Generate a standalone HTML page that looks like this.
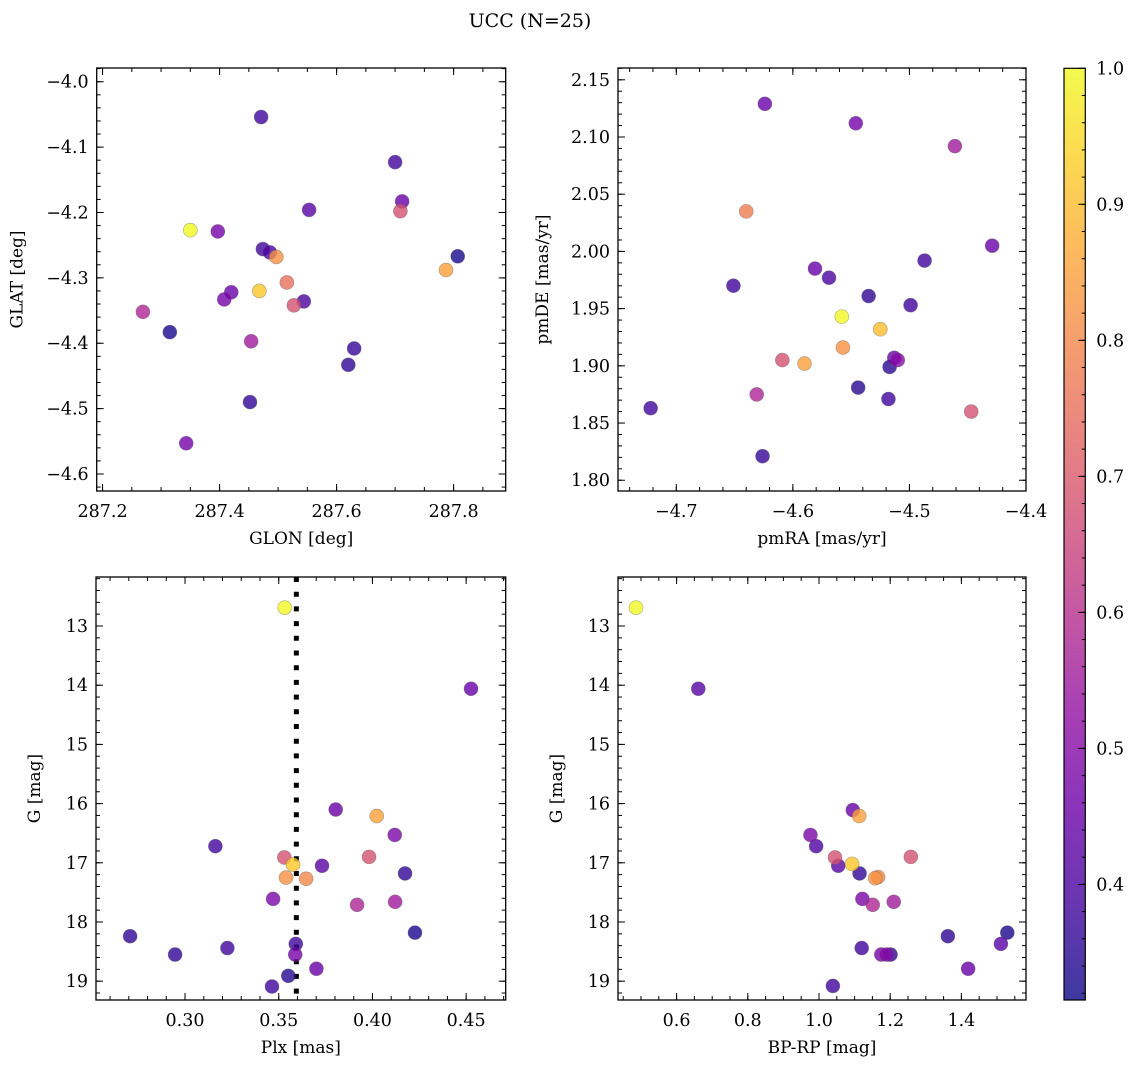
<!DOCTYPE html>
<html><head><meta charset="utf-8">
<style>
html,body{margin:0;padding:0;background:#fff;}
svg{display:block;font-family:"DejaVu Serif","Liberation Serif",serif;}
</style></head>
<body>
<svg id="chart" width="1136" height="1068" viewBox="0 0 1136 1068" xmlns="http://www.w3.org/2000/svg">
<defs>
<linearGradient id="cbgrad" x1="0" y1="1" x2="0" y2="0">
<stop offset="0" stop-color="#0d0887"/><stop offset="0.1" stop-color="#41049d"/><stop offset="0.2" stop-color="#6a00a8"/><stop offset="0.3" stop-color="#8f0da4"/><stop offset="0.4" stop-color="#b12a90"/><stop offset="0.5" stop-color="#cc4778"/><stop offset="0.6" stop-color="#e16462"/><stop offset="0.7" stop-color="#f2844b"/><stop offset="0.8" stop-color="#fca636"/><stop offset="0.9" stop-color="#fcce25"/><stop offset="1" stop-color="#f0f921"/>
</linearGradient>
</defs>
<text x="530" y="27" font-size="19" text-anchor="middle">UCC (N=25)</text>
</svg>
<script>
// ---- data ----
const glon = [287.471,287.700,287.712,287.709,287.553,287.350,287.397,287.474,287.486,287.497,287.807,287.787,287.515,287.468,287.420,287.408,287.544,287.527,287.269,287.315,287.454,287.630,287.620,287.452,287.343];
const glat = [-4.054,-4.123,-4.183,-4.198,-4.196,-4.227,-4.229,-4.256,-4.261,-4.268,-4.267,-4.288,-4.307,-4.320,-4.322,-4.333,-4.336,-4.342,-4.352,-4.383,-4.397,-4.408,-4.433,-4.490,-4.553];
const probTL = [0.38,0.38,0.45,0.68,0.42,1.0,0.47,0.38,0.40,0.82,0.33,0.85,0.75,0.92,0.45,0.47,0.40,0.68,0.58,0.33,0.55,0.37,0.36,0.36,0.47];
const pmra = [-4.624,-4.546,-4.461,-4.640,-4.429,-4.487,-4.581,-4.569,-4.651,-4.535,-4.499,-4.558,-4.525,-4.557,-4.513,-4.510,-4.609,-4.590,-4.517,-4.544,-4.518,-4.631,-4.722,-4.447,-4.626];
const pmde = [2.129,2.112,2.092,2.035,2.005,1.992,1.985,1.977,1.970,1.961,1.953,1.943,1.932,1.916,1.907,1.905,1.905,1.902,1.899,1.881,1.871,1.875,1.863,1.860,1.821];
const probTR = [0.45,0.47,0.55,0.78,0.45,0.38,0.45,0.40,0.38,0.36,0.38,1.0,0.9,0.82,0.45,0.50,0.68,0.85,0.35,0.35,0.38,0.58,0.38,0.68,0.37];
const plx = [0.3532,0.4526,0.3804,0.4023,0.4119,0.3162,0.3530,0.3982,0.3576,0.3731,0.4174,0.3539,0.3646,0.3470,0.4121,0.3918,0.4227,0.2707,0.3591,0.3226,0.3588,0.2947,0.3701,0.3551,0.3464];
const gmagBL = [12.69,14.06,16.10,16.21,16.53,16.72,16.91,16.90,17.03,17.05,17.18,17.25,17.27,17.61,17.66,17.71,18.18,18.24,18.37,18.44,18.55,18.55,18.79,18.91,19.09];
const probBL = [1.0,0.45,0.45,0.85,0.48,0.38,0.68,0.68,0.92,0.42,0.36,0.82,0.80,0.48,0.55,0.58,0.33,0.36,0.38,0.38,0.47,0.36,0.45,0.35,0.38];
const bprp = [0.486,0.661,1.095,1.113,0.976,0.992,1.045,1.258,1.093,1.054,1.114,1.158,1.166,1.122,1.210,1.151,1.529,1.362,1.511,1.120,1.175,1.190,1.201,1.419,1.039];
const gmagBR = [12.69,14.06,16.11,16.21,16.53,16.72,16.91,16.90,17.02,17.05,17.18,17.26,17.24,17.61,17.66,17.71,18.18,18.24,18.37,18.44,18.55,18.55,18.55,18.79,19.08];
const probBR = [1.0,0.42,0.45,0.85,0.48,0.40,0.68,0.68,0.92,0.42,0.36,0.82,0.80,0.48,0.55,0.58,0.33,0.36,0.42,0.38,0.47,0.50,0.36,0.45,0.38];
const plxLine = 0.3594;
const cbTicks = [0.4,0.5,0.6,0.7,0.8,0.9,1.0];
const vmin = 0.315, vmax = 1.0;

const NS = "http://www.w3.org/2000/svg";
const svg = document.getElementById('chart');
const stops = ["#0d0887","#41049d","#6a00a8","#8f0da4","#b12a90","#cc4778","#e16462","#f2844b","#fca636","#fcce25","#f0f921"];
function hex(h){return [parseInt(h.slice(1,3),16),parseInt(h.slice(3,5),16),parseInt(h.slice(5,7),16)];}
function plasma(v){
  let t=(v-vmin)/(vmax-vmin); t=Math.max(0,Math.min(1,t));
  const s=t*10, i=Math.min(9,Math.floor(s)), f=s-i;
  const a=hex(stops[i]), b=hex(stops[i+1]);
  return 'rgb('+a.map((c,k)=>Math.round(c+(b[k]-c)*f)).join(',')+')';
}
function mk(tag, attrs, parent){
  const e=document.createElementNS(NS,tag);
  for(const k in attrs) e.setAttribute(k,attrs[k]);
  (parent||svg).appendChild(e); return e;
}
function fmt(v,d){return (v<0?'\u2212':'')+Math.abs(v).toFixed(d);}

function panel(cfg){
  const g=mk('g',{});
  
  
  const {x0,x1,y0,y1}=cfg;
  const sx=v=>x0+(v-cfg.xmin)/(cfg.xmax-cfg.xmin)*(x1-x0);
  const sy=cfg.invert? (v=>y0+(v-cfg.ymin)/(cfg.ymax-cfg.ymin)*(y1-y0)) : (v=>y1-(v-cfg.ymin)/(cfg.ymax-cfg.ymin)*(y1-y0));
  if(cfg.vline!==undefined){
    const l=mk('line',{x1:sx(cfg.vline),x2:sx(cfg.vline),y1:y0,y2:y1,stroke:'#000','stroke-width':5,'stroke-dasharray':'5,9.7'},g);
    
    
  }
  const order=cfg.xs.map((_,i)=>i).sort((a,b)=>cfg.cs[a]-cfg.cs[b]);
  order.forEach(i=>{
    const c=mk('circle',{cx:sx(cfg.xs[i]),cy:sy(cfg.ys[i]),r:7,fill:plasma(cfg.cs[i]),'fill-opacity':0.8,stroke:'rgba(90,90,90,0.5)','stroke-width':0.6},g);
    
    
  });
  const eps=1e-9;
  function ticksX(step,len,lab){
    const start=Math.ceil((cfg.xmin-eps)/step)*step;
    for(let v=start; v<=cfg.xmax+eps; v+=step){
      const X=sx(v);
      mk('line',{x1:X,x2:X,y1:y1,y2:y1-len,stroke:'#000','stroke-width':1},g);
      mk('line',{x1:X,x2:X,y1:y0,y2:y0+len,stroke:'#000','stroke-width':1},g);
      if(lab){
        const t=mk('text',{x:X,y:y1+26,'font-size':17.5,'text-anchor':'middle'},g);
        t.textContent=fmt(v,cfg.xdec);
        
        
      }
    }
  }
  function ticksY(step,len,lab){
    const start=Math.ceil((cfg.ymin-eps)/step)*step;
    for(let v=start; v<=cfg.ymax+eps; v+=step){
      const Y=sy(v);
      mk('line',{x1:x0,x2:x0+len,y1:Y,y2:Y,stroke:'#000','stroke-width':1},g);
      mk('line',{x1:x1,x2:x1-len,y1:Y,y2:Y,stroke:'#000','stroke-width':1},g);
      if(lab){
        const t=mk('text',{x:x0-8,y:Y+6,'font-size':17.5,'text-anchor':'end'},g);
        t.textContent=fmt(v,cfg.ydec);
        
        
      }
    }
  }
  ticksX(cfg.xminor,4,false); ticksX(cfg.xmajor,7,true);
  ticksY(cfg.yminor,4,false); ticksY(cfg.ymajor,7,true);
  const fr=mk('rect',{x:x0,y:y0,width:x1-x0,height:y1-y0,fill:'none',stroke:'#000','stroke-width':1.3},g);
  
  
  const xl=mk('text',{x:(x0+x1)/2,y:y1+53,'font-size':17,'text-anchor':'middle'},g);
  xl.textContent=cfg.xlabel;
  
  
  const yx=x0-cfg.ylabOff, yc=(y0+y1)/2;
  const yl=mk('text',{x:yx,y:yc,'font-size':17,'text-anchor':'middle',transform:'rotate(-90 '+yx+' '+yc+')'},g);
  yl.textContent=cfg.ylabel;
  
  
}

panel({name:'glon-glat-panel',x0:96.7,x1:505.7,y0:68,y1:491,xmin:287.190,xmax:287.889,ymin:-4.626,ymax:-3.979,
  xs:glon,ys:glat,cs:probTL,xmajor:0.2,xminor:0.05,ymajor:0.1,yminor:0.02,xdec:1,ydec:1,xlabel:'GLON [deg]',ylabel:'GLAT [deg]',ylabOff:74});
panel({name:'pm-panel',x0:618,x1:1026,y0:68,y1:491,xmin:-4.750,xmax:-4.4,ymin:1.7906,ymax:2.1603,
  xs:pmra,ys:pmde,cs:probTR,xmajor:0.1,xminor:0.02,ymajor:0.05,yminor:0.01,xdec:1,ydec:2,xlabel:'pmRA [mas/yr]',ylabel:'pmDE [mas/yr]',ylabOff:70});
panel({name:'plx-g-panel',x0:96,x1:505.7,y0:577,y1:1000,xmin:0.2525,xmax:0.4711,ymin:12.172,ymax:19.318,invert:true,vline:plxLine,
  xs:plx,ys:gmagBL,cs:probBL,xmajor:0.05,xminor:0.01,ymajor:1,yminor:0.2,xdec:2,ydec:0,xlabel:'Plx [mas]',ylabel:'G [mag]',ylabOff:56});
panel({name:'cmd-panel',x0:618,x1:1026,y0:577,y1:1000,xmin:0.4354,xmax:1.5815,ymin:12.172,ymax:19.318,invert:true,
  xs:bprp,ys:gmagBR,cs:probBR,xmajor:0.2,xminor:0.05,ymajor:1,yminor:0.2,xdec:1,ydec:0,xlabel:'BP-RP [mag]',ylabel:'G [mag]',ylabOff:56});

const cb=mk('g',{});


const cx0=1064, cx1=1085.3, cy0=68.3, cy1=1000;
const cy=v=>cy0+(vmax-v)/(vmax-vmin)*(cy1-cy0);
mk('rect',{x:cx0,y:cy0,width:cx1-cx0,height:cy1-cy0,fill:'url(#cbgrad)','fill-opacity':0.8},cb);
mk('rect',{x:cx0,y:cy0,width:cx1-cx0,height:cy1-cy0,fill:'none',stroke:'#000','stroke-width':1.2},cb);
for(let v=0.32; v<=1.0001; v+=0.02){
  mk('line',{x1:cx1,x2:cx1-3.5,y1:cy(v),y2:cy(v),stroke:'#000','stroke-width':1},cb);
}
cbTicks.forEach(v=>{
  mk('line',{x1:cx1,x2:cx1-7,y1:cy(v),y2:cy(v),stroke:'#000','stroke-width':1},cb);
  const t=mk('text',{x:cx1+11,y:cy(v)+6,'font-size':17.5},cb);
  t.textContent=v.toFixed(1);
  
  
});
</script>
</body></html>
